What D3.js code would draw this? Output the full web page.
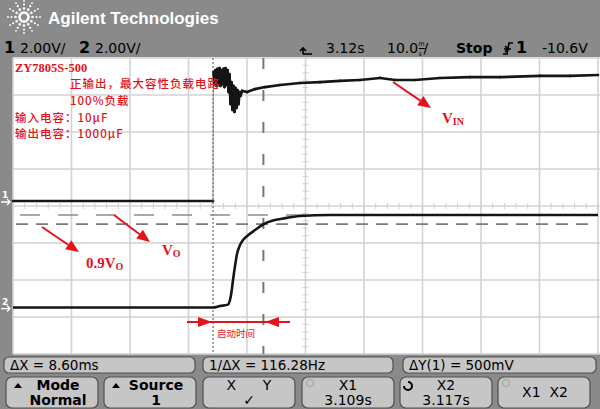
<!DOCTYPE html>
<html><head><meta charset="utf-8">
<script src="https://cdn.jsdelivr.net/npm/d3@7"></script>
<style>body{margin:0;background:#8a8a8a;overflow:hidden} svg{display:block}</style>
</head><body><svg id="c" width="600" height="409"></svg>
<script>
// ---------- data ----------
// Channel 1 (VIN), time in ms from left edge of screen, volts relative to ch1 ground
const vinTime  = [0, 34.19, 34.26, 34.44, 34.62, 34.79, 34.96, 35.13, 35.30, 35.47, 35.64, 35.81, 35.98, 36.15, 36.32, 36.50, 36.67, 36.84, 37.01, 37.18, 37.35, 37.52, 37.69, 37.86, 38.03, 38.21, 38.38, 38.55, 38.72, 38.89, 39.15, 40.00, 41.37, 43.08, 45.64, 49.06, 52.48, 55.90, 59.32, 62.74, 65.30, 68.72, 73.00, 78.12, 83.25, 90.09, 95.21, 100];
const vinVolts = [0, 0, 6.97, 6.32, 7.08, 6.22, 7.14, 6.27, 7.19, 6.22, 7.08, 6.32, 7.14, 6.16, 7.19, 6.27, 7.08, 5.89, 6.86, 5.24, 6.43, 4.92, 6.22, 4.81, 6.11, 5.03, 6.00, 5.24, 5.89, 5.68, 5.95, 5.89, 6.05, 6.16, 6.27, 6.38, 6.43, 6.49, 6.54, 6.65, 6.54, 6.54, 6.65, 6.70, 6.70, 6.76, 6.76, 6.81];
// Channel 2 (VO)
const voTime  = [0, 34.19, 35.38, 36.75, 37.09, 37.35, 37.61, 37.95, 38.29, 38.80, 39.32, 40.00, 41.37, 42.74, 44.44, 46.15, 49.06, 54.19, 100];
const voVolts = [0, 0, 0.08, 0.16, 0.41, 0.84, 1.49, 2.24, 2.89, 3.38, 3.65, 3.86, 4.19, 4.49, 4.70, 4.81, 4.95, 5.00, 5.00];
// cursors
const cursorXms = [34.2, 42.8];        // X1, X2  (ΔX = 8.60 ms)
const cursorYvolts = [-0.75, -1.25];   // Y1, Y2 on ch1 (ΔY = 500 mV)
// grid divisions
const gridX = [0,10,20,30,40,50,60,70,80,90,100];
const gridY = [-8,-6,-4,-2,0,2,4,6,8];
const minorX = d3.range(0, 100.1, 2);
const minorY = d3.range(-8, 8.01, 0.4);
// labels
const headerLeft = [["1","2.00V/"],["2","2.00V/"]];
const measureLabels = ["ΔX = 8.60ms", "1/ΔX = 116.28Hz", "ΔY(1) = 500mV"];
const softkeys = [["Mode","Normal"],["Source","1"],["X      Y","✓"],["X1","3.109s"],["X2","3.117s"],["X1  X2",""]];
const notes = ["ZY7805S-500","正输出，最大容性负载电路","100%负载","输入电容：10μF","输出电容：1000μF"];

// ---------- scales ----------
const X0 = 13, X1 = 598, Ytop = 58, Ybot = 354;
const x = d3.scaleLinear().domain([0,100]).range([X0, X1]);
const y = d3.scaleLinear().domain([-8,8]).range([Ybot, Ytop]);
const ch1Off = 0.27, ch2Off = -5.49;

const svg = d3.select("#c");
const RED = "#e3121b";

// backgrounds
svg.append("rect").attr("width",600).attr("height",409).attr("fill","#8a8a8a");
svg.append("rect").attr("x",X0).attr("y",Ytop-1).attr("width",600-X0).attr("height",Ybot-Ytop+1).attr("fill","#fff");

// grid
const g = svg.append("g");
g.selectAll(".vx").data(gridX).join("line").attr("x1",d=>x(d)).attr("x2",d=>x(d)).attr("y1",Ytop).attr("y2",Ybot)
  .attr("stroke","#d2d2d2").attr("stroke-width",1.6);
g.selectAll(".hy").data(gridY).join("line").attr("y1",d=>y(d)).attr("y2",d=>y(d)).attr("x1",X0).attr("x2",600)
  .attr("stroke","#d2d2d2").attr("stroke-width",1.6);
g.selectAll(".mx").data(minorX).join("line").attr("x1",d=>x(d)).attr("x2",d=>x(d)).attr("y1",y(0)-3).attr("y2",y(0)+3)
  .attr("stroke","#cfcfcf").attr("stroke-width",1);
g.selectAll(".my").data(minorY).join("line").attr("y1",d=>y(d)).attr("y2",d=>y(d)).attr("x1",x(50)-3).attr("x2",x(50)+3)
  .attr("stroke","#cfcfcf").attr("stroke-width",1);

// cursors
svg.append("line").attr("x1",x(cursorXms[0])).attr("x2",x(cursorXms[0])).attr("y1",Ytop).attr("y2",Ybot)
  .attr("stroke","#8a8a8a").attr("stroke-width",1.5).attr("stroke-dasharray","2,2");
svg.append("line").attr("x1",x(cursorXms[1])).attr("x2",x(cursorXms[1])).attr("y1",Ytop).attr("y2",Ybot)
  .attr("stroke","#777").attr("stroke-width",2).attr("stroke-dasharray","11,21");
svg.append("line").attr("y1",y(cursorYvolts[0]+ch1Off)).attr("y2",y(cursorYvolts[0]+ch1Off)).attr("x1",20).attr("x2",598)
  .attr("stroke","#8c8c8c").attr("stroke-width",1.5).attr("stroke-dasharray","20,18");
svg.append("line").attr("y1",y(cursorYvolts[1]+ch1Off)).attr("y2",y(cursorYvolts[1]+ch1Off)).attr("x1",16).attr("x2",592)
  .attr("stroke","#7a7a7a").attr("stroke-width",1.8).attr("stroke-dasharray","12,8");

// traces: ch1 drawn segment by segment so that the very fast edge is rendered faint, like on the scope
const seg1 = d3.range(vinTime.length-1).map(i=>({
  x1:x(vinTime[i]), y1:y(vinVolts[i]+ch1Off), x2:x(vinTime[i+1]), y2:y(vinVolts[i+1]+ch1Off)
}));
svg.append("g").selectAll("line").data(seg1).join("line")
  .attr("x1",d=>d.x1).attr("y1",d=>d.y1).attr("x2",d=>d.x2).attr("y2",d=>d.y2)
  .attr("stroke",d=>Math.abs(d.y2-d.y1)>60?"#777":"#151515")
  .attr("stroke-width",d=>Math.abs(d.y2-d.y1)>60?0.8:2.7)
  .attr("stroke-linecap",d=>Math.abs(d.y2-d.y1)>60?"butt":"round");
const line2 = d3.line().x((d,i)=>x(voTime[i])).y((d,i)=>y(voVolts[i]+ch2Off)).curve(d3.curveMonotoneX);
svg.append("path").attr("d",line2(voTime)).attr("fill","none").attr("stroke","#151515").attr("stroke-width",2.6).attr("stroke-linejoin","round");

// channel markers on left strip
function chMarker(label, yy){
  svg.append("text").attr("x",2).attr("y",yy-3).attr("fill","#fff").attr("font-family","DejaVu Sans").attr("font-weight","bold").attr("font-size",9).text(label);
  svg.append("path").attr("d",`M1,${yy+1} L10,${yy+1} M7,${yy-2} L10,${yy+1} L7,${yy+4}`).attr("stroke","#fff").attr("stroke-width",1.3).attr("fill","none");
}
chMarker("1", y(ch1Off));
chMarker("2", y(ch2Off));

// header
const logo = svg.append("g").attr("transform","translate(24,17)");
d3.range(12).forEach(k=>{
  const a = k*Math.PI/6;
  [4.5,8.5,12.5,16].forEach((r,j)=>{
    logo.append("circle").attr("cx",r*Math.cos(a)).attr("cy",r*Math.sin(a)).attr("r",[1.5,1.3,1.1,0.9][j]).attr("fill","#fff");
  });
});
svg.append("text").attr("x",48).attr("y",24).attr("fill","#fff").attr("font-family","Liberation Sans, Arial").attr("font-weight","bold").attr("font-size",17).text("Agilent Technologies");

const hdr = svg.append("g").attr("font-family","DejaVu Sans").attr("font-size",14).attr("fill","#000");
hdr.append("text").attr("x",4).attr("y",53).attr("font-weight","bold").attr("font-size",16).text(headerLeft[0][0]);
hdr.append("text").attr("x",20).attr("y",53).text(headerLeft[0][1]);
hdr.append("text").attr("x",79).attr("y",53).attr("font-weight","bold").attr("font-size",16).text(headerLeft[1][0]);
hdr.append("text").attr("x",95).attr("y",53).text(headerLeft[1][1]);
// delay marker
svg.append("path").attr("d","M303,54 L312,54 M303,54 L303,48 M300,51 L303,48 L306,51").attr("stroke","#000").attr("stroke-width",1.6).attr("fill","none");
hdr.append("text").attr("x",326).attr("y",53).text("3.12s");
const tb = hdr.append("text").attr("x",387).attr("y",53);
tb.append("tspan").text("10.0");
tb.append("tspan").attr("font-size",6.5).attr("dy",-7).text("m");
tb.append("tspan").attr("font-size",6.5).attr("dx",-6).attr("dy",9.5).text("s");
tb.append("tspan").attr("dy",-2.5).attr("dx",1.5).text("/");
hdr.append("line").attr("x1",419).attr("x2",426).attr("y1",48.5).attr("y2",48.5).attr("stroke","#000");
hdr.append("text").attr("x",456).attr("y",53).attr("font-weight","bold").text("Stop");
svg.append("path").attr("d","M503,54 L507,54 L509,43 L513,43 M504,49 L511,49 M505,46 L508,49 L505,52").attr("stroke","#000").attr("stroke-width",1.6).attr("fill","none");
hdr.append("text").attr("x",516).attr("y",53).attr("font-weight","bold").attr("font-size",16).text("1");
hdr.append("text").attr("x",542).attr("y",53).text("-10.6V");

// annotations
const ann = svg.append("g").attr("fill",RED);
ann.append("text").attr("x",15).attr("y",72).attr("font-family","Liberation Serif, Times New Roman").attr("font-weight","bold").attr("font-size",12.5).text(notes[0]);
const cjk = "Noto Sans CJK SC";
const noteRows = [[70,88],[70,104.8],[15,121.5],[15,138.2]];
noteRows.forEach((p,i)=>{
  ann.append("text").attr("x",p[0]).attr("y",p[1]).attr("font-family",cjk).attr("font-size",11.5).attr("font-weight",500).attr("letter-spacing",1).text(notes[i+1]);
});

function arrow(x1,y1,x2,y2,L=13,W=5.5){
  const a=Math.atan2(y2-y1,x2-x1), bx=x2-L*Math.cos(a), by=y2-L*Math.sin(a);
  svg.append("line").attr("x1",x1).attr("y1",y1).attr("x2",bx).attr("y2",by).attr("stroke",RED).attr("stroke-width",2);
  svg.append("polygon").attr("points",`${x2},${y2} ${bx+W*Math.sin(a)},${by-W*Math.cos(a)} ${bx-W*Math.sin(a)},${by+W*Math.cos(a)}`).attr("fill",RED);
}
arrow(393,82,431,108);
arrow(114,215,150,242);
arrow(42,227,79,252);

function vlabel(xx,yy,main,sub,pre){
  const t = svg.append("text").attr("x",xx).attr("y",yy).attr("fill",RED).attr("font-family","Liberation Serif, Times New Roman").attr("font-weight","bold").attr("font-size",15);
  if(pre) t.append("tspan").text(pre);
  t.append("tspan").text(main);
  t.append("tspan").attr("font-size",10).attr("dy",2).text(sub);
}
vlabel(442,123,"V","IN");
vlabel(162,255,"V","O");
vlabel(86,268,"V","O","0.9");

// start-up time arrow
svg.append("line").attr("x1",187).attr("x2",290).attr("y1",322).attr("y2",322).attr("stroke",RED).attr("stroke-width",1.8);
svg.append("polygon").attr("points","212,322 198,317 198,327").attr("fill",RED);
svg.append("polygon").attr("points","265,322 279,317 279,327").attr("fill",RED);
svg.append("text").attr("x",217).attr("y",337).attr("fill",RED).attr("font-family",cjk).attr("font-size",9.5).text("启动时间");

// bottom measurement boxes
const mbx = [[4,195],[203,393],[403,596]];
mbx.forEach((b,i)=>{
  svg.append("rect").attr("x",b[0]).attr("y",357).attr("width",b[1]-b[0]).attr("height",16).attr("rx",5)
    .attr("fill","#c6c6c6").attr("stroke","#505050").attr("stroke-width",1.2);
  svg.append("text").attr("x",b[0]+6).attr("y",370).attr("font-family","DejaVu Sans").attr("font-size",13.5).attr("fill","#000").text(measureLabels[i]);
});

// softkeys
const keyX = [6,104,203,302,400,498];
softkeys.forEach((k,i)=>{
  const bx = keyX[i], w = 92;
  svg.append("rect").attr("x",bx).attr("y",377).attr("width",w).attr("height",31).attr("rx",6)
    .attr("fill","#c6c6c6").attr("stroke","#505050").attr("stroke-width",1.2);
  const cx = bx + w/2 + (i<2?6:0);
  if(k[1]===""){
    svg.append("text").attr("x",bx+w/2+1).attr("y",397).attr("text-anchor","middle").attr("font-family","DejaVu Sans").attr("font-size",14).attr("xml:space","preserve").text(k[0]);
  } else {
    svg.append("text").attr("x",cx).attr("y",390).attr("text-anchor","middle").attr("font-family","DejaVu Sans").attr("font-weight",i<2?"bold":"normal").attr("font-size",14).attr("xml:space","preserve").text(k[0]);
    svg.append("text").attr("x",cx).attr("y",405).attr("text-anchor","middle").attr("font-family","DejaVu Sans").attr("font-weight",(i<2)?"bold":"normal").attr("font-size",14).text(k[1]);
  }
  if(i<2) svg.append("polygon").attr("points",`${bx+8},${388} ${bx+12},${383} ${bx+16},${388}`).attr("fill","#000");
  if(i===3||i===5) svg.append("circle").attr("cx",bx+8).attr("cy",383).attr("r",3.5).attr("fill","none").attr("stroke","#aaa").attr("stroke-width",1.5);
  if(i===4) svg.append("path").attr("d",`M${bx+4},386 A4,4 0 1 0 ${bx+8},382`).attr("fill","none").attr("stroke","#000").attr("stroke-width",2);
});
</script></body></html>
